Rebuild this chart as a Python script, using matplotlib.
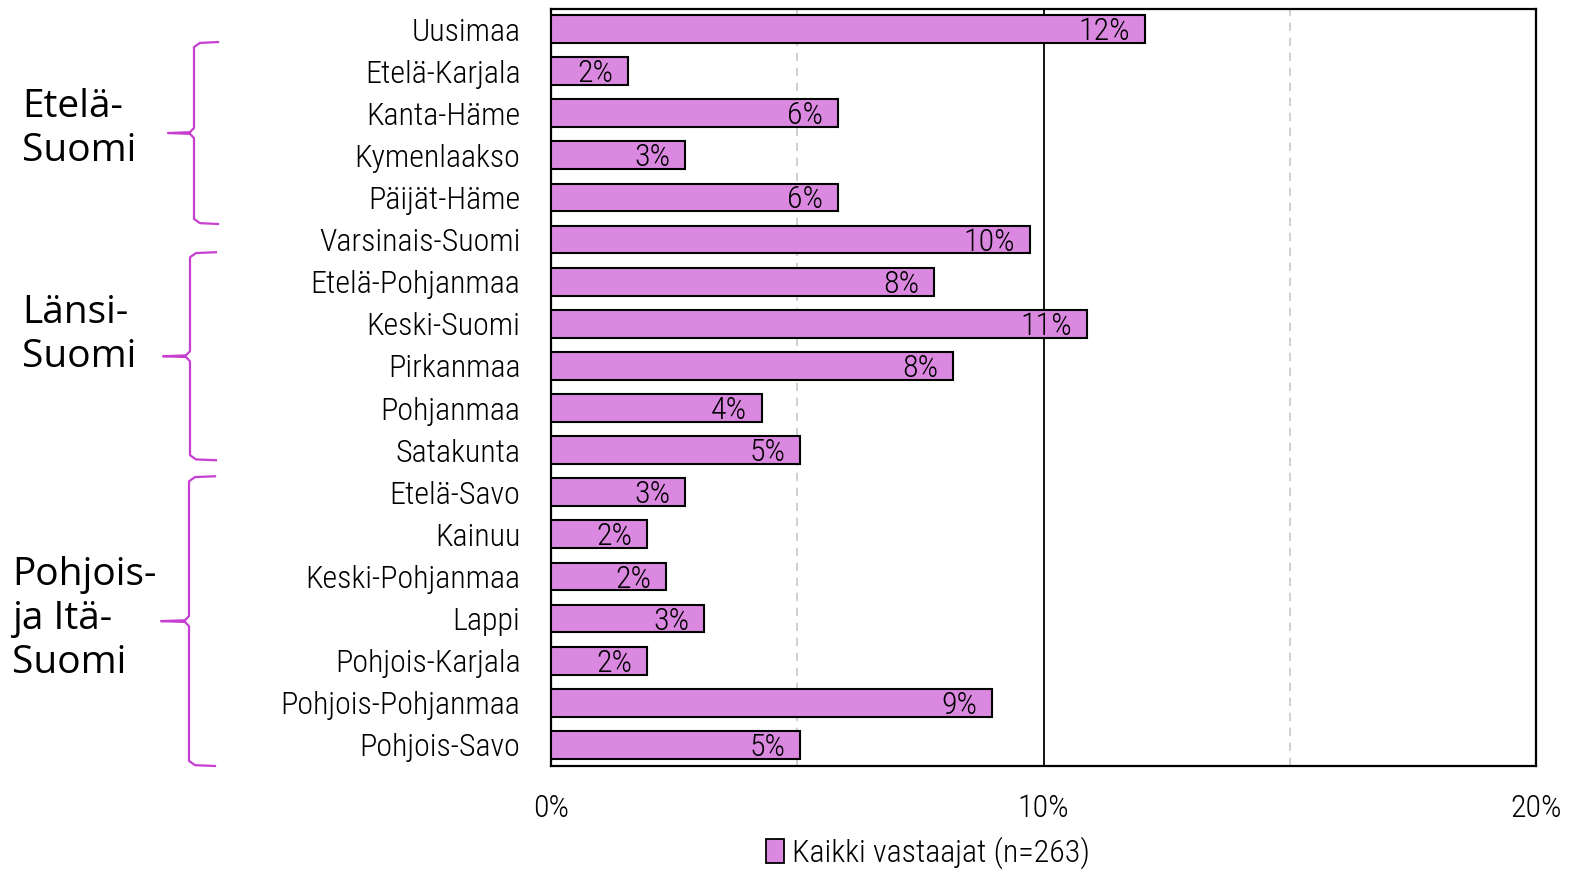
import matplotlib
matplotlib.use("Agg")
import matplotlib.pyplot as plt
from matplotlib.patches import Patch
from matplotlib import font_manager
import matplotlib.transforms as mtransforms

regions = ["Uusimaa", "Etelä-Karjala", "Kanta-Häme", "Kymenlaakso", "Päijät-Häme",
           "Varsinais-Suomi", "Etelä-Pohjanmaa", "Keski-Suomi", "Pirkanmaa", "Pohjanmaa",
           "Satakunta", "Etelä-Savo", "Kainuu", "Keski-Pohjanmaa", "Lappi",
           "Pohjois-Karjala", "Pohjois-Pohjanmaa", "Pohjois-Savo"]
values = [12.06, 1.56, 5.83, 2.72, 5.83, 9.73, 7.78, 10.88, 8.16, 4.28,
          5.06, 2.72, 1.95, 2.33, 3.11, 1.95, 8.95, 5.06]
value_labels = ["12%", "2%", "6%", "3%", "6%", "10%", "8%", "11%", "8%", "4%",
                "5%", "3%", "2%", "2%", "3%", "2%", "9%", "5%"]
xticks = [0, 10, 20]
xtick_labels = ["0%", "10%", "20%"]
series_name = "Kaikki vastaajat (n=263)"
groups = ["Etelä-\nSuomi", "Länsi-\nSuomi", "Pohjois-\nja Itä-\nSuomi"]

avail = {f.name for f in font_manager.fontManager.ttflist}
narrow = "Roboto Condensed" if "Roboto Condensed" in avail else "Roboto"
FN = [narrow, "DejaVu Sans"]
FG = ["Open Sans", "DejaVu Sans"]
W = "light"

BAR = "#DA88E0"
BRACE = "#C63FD0"

fig = plt.figure(figsize=(15.7, 8.72), dpi=100)
ax = fig.add_axes([551/1570, 1-766/872, (1536-551)/1570, (766-9)/872])

y = list(range(len(regions)))
ax.barh(y, values, height=0.66, color=BAR, edgecolor="black", linewidth=1.5, zorder=3)
for yi, v, lab in zip(y, values, value_labels):
    ax.text(v - 0.3, yi + 0.06, lab, ha="right", va="center", fontsize=23,
            family=FN, weight=W, color="black", zorder=4)

ax.set_xlim(0, 20)
ax.set_ylim(17.5, -0.475)
ax.axvline(5, color="#c8c8c8", ls=(0, (5, 4)), lw=1.2, zorder=1)
ax.axvline(15, color="#c8c8c8", ls=(0, (5, 4)), lw=1.2, zorder=1)
ax.axvline(10, color="black", lw=1.3, zorder=1)

ax.set_yticks(y)
ax.set_yticklabels(regions, family=FN, fontsize=23, weight=W)
ax.tick_params(axis="y", length=0, pad=22)
ax.set_xticks(xticks)
ax.set_xticklabels(xtick_labels, family=FN, fontsize=23, weight=W)
ax.tick_params(axis="x", length=0, pad=20)
for s in ax.spines.values():
    s.set_color("black")
    s.set_linewidth(1.6)

leg = fig.legend(handles=[Patch(facecolor=BAR, edgecolor="black", linewidth=1.3, label=series_name)],
                 loc="center", bbox_to_anchor=(928/1570, 1-853/872), frameon=False,
                 prop=font_manager.FontProperties(family=FN, size=23, weight=W),
                 handlelength=0.55, handleheight=0.75, handletextpad=0.25)

# braces: figure-pixel x, data y
tr = mtransforms.blended_transform_factory(
    mtransforms.Affine2D().scale(1/1570, 1) + fig.transFigure, ax.transData)

def brace(y0, y1, xtip, xspine, xpoint):
    ym = (y0 + y1) / 2
    c = 0.12
    xs = [xtip, xspine + 6, xspine, xspine, xspine - 4, xpoint,
          xspine - 4, xspine, xspine, xspine + 6, xtip]
    ys = [y0, y0 + 0.02, y0 + c, ym - c, ym - 0.02, ym,
          ym + 0.02, ym + c, y1 - c, y1 - 0.02, y1]
    fig.add_artist(plt.Line2D(xs, ys, transform=tr, color=BRACE, lw=1.6,
                              solid_joinstyle="round"))

brace_spans = [(0.31, 4.63), (5.30, 10.24), (10.62, 17.5)]
brace_x = [(218, 194, 168), (216, 190, 163), (215, 189, 161)]
for (y0, y1), (a, b, c) in zip(brace_spans, brace_x):
    brace(y0, y1, a, b, c)

label_pos = [(22, 129), (22, 335), (12, 619)]
for g, (px, py) in zip(groups, label_pos):
    fig.text(px/1570, 1-py/872, g, ha="left", va="center", fontsize=28,
             family=FG, linespacing=1.2)

fig.savefig("out.png", dpi=100)
